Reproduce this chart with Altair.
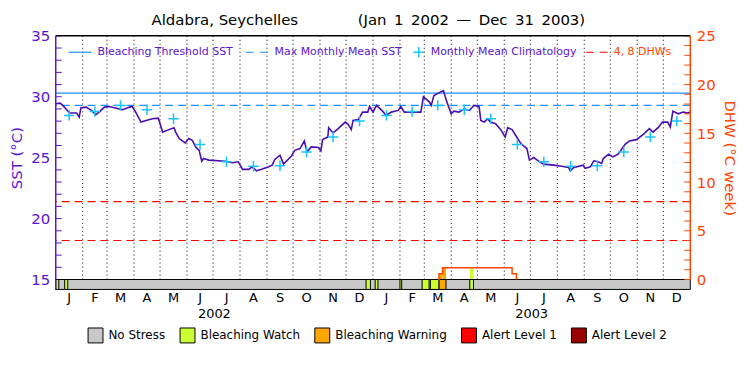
import altair as alt
import pandas as pd

# ---------------- data ----------------
title_left = "Aldabra, Seychelles"
title_right = "(Jan\u20021\u20022002\u2002\u2014\u2002Dec\u200231\u20022003)"

# SST trace: days since 2002-01-01 and SST (deg C)
sst_day = [0, 5, 8, 16, 24, 27, 29, 35, 41, 46, 50, 56, 62, 73, 77, 85, 88, 92, 98, 104,
           111, 118, 123, 128, 136, 138, 142, 149, 153, 157, 161, 165, 168, 170, 176, 195,
           203, 210, 215, 222, 226, 231, 237, 245, 249, 252, 258, 262, 271, 275, 281, 286,
           289, 294, 302, 305, 307, 313, 314, 319, 325, 333, 336, 340, 342, 348, 353, 359,
           361, 365, 369, 376, 380, 386, 394, 397, 401, 420, 423, 430, 432, 435, 443, 446,
           450, 455, 458, 464, 470, 476, 481, 487, 489, 493, 497, 500, 506, 512, 517, 520,
           525, 529, 535, 542, 545, 550, 554, 561, 573, 582, 590, 592, 596, 607, 609, 615,
           619, 624, 628, 630, 636, 641, 647, 655, 660, 668, 676, 683, 687, 693, 698, 704,
           707, 710, 716, 722, 727, 730]
sst_val = [29.42, 29.47, 29.29, 28.66, 28.66, 28.33, 29.10, 29.15, 28.88, 28.53, 28.74, 29.15,
           29.20, 29.00, 28.93, 29.15, 29.20, 28.74, 27.92, 28.06, 28.20, 28.24, 27.10, 27.24,
           27.46, 27.10, 26.57, 26.21, 26.57, 26.43, 25.88, 25.60, 24.71, 24.93, 24.80, 24.71,
           24.58, 24.66, 24.04, 24.04, 24.25, 23.92, 24.04, 24.25, 24.39, 24.85, 25.20, 24.47,
           25.12, 25.60, 25.75, 26.37, 25.48, 25.88, 25.83, 25.56, 26.48, 26.70, 27.46, 27.03,
           27.38, 27.92, 27.78, 27.30, 28.06, 28.12, 28.74, 28.74, 29.20, 28.74, 29.29, 28.82,
           28.47, 28.74, 28.88, 29.20, 28.74, 28.74, 30.00, 29.56, 29.29, 30.10, 30.40, 30.50,
           29.56, 28.60, 28.82, 28.74, 29.00, 28.88, 29.29, 29.20, 28.06, 27.92, 28.20, 27.92,
           27.78, 27.30, 26.70, 27.46, 27.30, 26.84, 26.16, 25.75, 24.80, 25.01, 24.80, 24.47,
           24.39, 24.30, 24.20, 23.92, 24.20, 24.39, 24.12, 24.25, 24.74, 24.66, 24.53, 24.93,
           25.29, 25.07, 25.29, 26.10, 26.37, 26.48, 26.92, 27.38, 27.10, 27.46, 27.92, 27.92,
           27.52, 28.82, 28.60, 28.74, 28.66, 28.74]

# monthly mean climatology (Jan..Dec)
clim_val = [28.47, 28.78, 29.29, 28.93, 28.20, 26.08, 24.66, 24.30, 24.33, 25.47, 26.70, 28.00]
mmm_sst = 29.29
threshold_sst = 30.29
dhw_marks = [4, 8]

# Degree heating weeks (step after)
dhw_day = [440, 441, 445, 525, 530]
dhw_val = [0.0, 0.6, 1.2, 0.6, 0.0]

# stress bar segments
levels = ["No Stress", "Bleaching Watch", "Bleaching Warning", "Alert Level 1", "Alert Level 2"]
level_colors = ["#C8C8C8", "#CCFF33", "#FFA500", "#FF0000", "#990000"]
stress_start = [0, 0, 10.3, 357, 367.5, 396, 421.5, 431, 441, 476.3]
stress_end = [730, 3.5, 13.8, 362, 370.7, 398, 429.5, 441, 449, 480.6]
stress_level = ["No Stress"] + ["Bleaching Watch"] * 7 + ["Bleaching Warning", "Bleaching Watch"]

# coloured fill under the DHW curve
fill_start = [441, 445, 476.3]
fill_end = [445, 449, 480.6]
fill_top = [0.6, 1.2, 1.2]
fill_level = ["Bleaching Warning", "Bleaching Warning", "Bleaching Watch"]

month_letters = list("JFMAMJJASOND")
years = ["2002", "2003"]
sst_ticks = list(range(15, 36))
sst_labels = [15, 20, 25, 30, 35]
dhw_ticks = list(range(0, 26))
dhw_labels = [0, 5, 10, 15, 20, 25]

# ---------------- derived tables ----------------
ms = pd.date_range("2002-01-01", "2004-01-01", freq="MS")
mstart = [(d - ms[0]).days for d in ms]
mmid = [(a + b) / 2 for a, b in zip(mstart[:-1], mstart[1:])]

sst_df = pd.DataFrame({"day": sst_day, "v": sst_val})
clim_df = pd.DataFrame({"day": mmid, "v": clim_val * 2})
grid_df = pd.DataFrame({"day": mstart[1:-1]})
month_df = pd.DataFrame({"day": mmid, "m": month_letters * 2})
year_df = pd.DataFrame({"day": [(mstart[0] + mstart[12]) / 2, (mstart[12] + mstart[24]) / 2],
                        "yr": years})
dhw_df = pd.DataFrame({"day": dhw_day, "v": dhw_val})
stress_df = pd.DataFrame({"s": stress_start, "e": stress_end, "level": stress_level})
fill_df = pd.DataFrame({"s": fill_start, "e": fill_end, "v": fill_top, "level": fill_level,
                        "zero": [0] * len(fill_start)})

# ---------------- styling ----------------
W, H = 638, 245
FONT = "DejaVu Sans"
PURPLE = "#5A14D2"
LINE_PURPLE = "#4A0FB0"
ORANGE = "#FF4500"
BLUE = "#1E90FF"
CYAN = "#19C3FF"
RED = "#FF0000"
CROSS = "M-1,0L1,0M0,-1L0,1"

x_scale = alt.Scale(domain=[0, 730], nice=False, zero=False)
sst_scale = alt.Scale(domain=[15, 35], nice=False, zero=False)
dhw_scale = alt.Scale(domain=[0, 25], nice=False, zero=False)
color_scale = alt.Scale(domain=levels, range=level_colors)

sst_axis = alt.Axis(values=sst_labels, orient="left", ticks=False, tickSize=0, domain=False,
                    grid=False, labelColor=PURPLE, labelFont=FONT, labelFontSize=15,
                    labelPadding=6, title="SST (°C)", titleColor=PURPLE, titleFont=FONT,
                    titleFontSize=15, titleFontWeight="normal", titlePadding=6)
dhw_axis = alt.Axis(values=dhw_labels, orient="right", ticks=False, tickSize=0, domain=False,
                    grid=False, labelColor=ORANGE, labelFont=FONT, labelFontSize=15,
                    labelPadding=6, title="DHW (°C week)", titleColor=ORANGE, titleFont=FONT,
                    titleFontSize=15, titleFontWeight="normal", titlePadding=6)
stress_legend = alt.Legend(title=None, orient="none", legendX=32, legendY=293,
                           direction="horizontal", symbolType="square", symbolSize=225,
                           symbolStrokeColor="black", symbolStrokeWidth=1,
                           symbolOpacity=1, labelFont=FONT, labelFontSize=12,
                           labelColor="black", labelOffset=5, columnPadding=11.5,
                           padding=0)


def X(f):
    return alt.X(f, type="quantitative", scale=x_scale, axis=None)


def YS(f="v"):
    return alt.Y(f, type="quantitative", scale=sst_scale, axis=sst_axis, title="SST (°C)")


def YD(f="v"):
    return alt.Y(f, type="quantitative", scale=dhw_scale, axis=dhw_axis, title="DHW (°C week)")


def COL():
    return alt.Color("level:N", scale=color_scale, legend=stress_legend)


# ---- SST group ----
grid = alt.Chart(grid_df).mark_rule(color="black", strokeDash=[1, 3], strokeWidth=1).encode(
    x=X("day"), y=alt.value(0), y2=alt.value(H))
thr = alt.Chart(pd.DataFrame({"v": [threshold_sst]})).mark_rule(color=BLUE, strokeWidth=1.2).encode(
    y=YS())
mmm = alt.Chart(pd.DataFrame({"v": [mmm_sst]})).mark_rule(color=BLUE, strokeWidth=1.2, strokeDash=[8, 5]).encode(
    y=YS())
line = alt.Chart(sst_df).mark_line(color=LINE_PURPLE, strokeWidth=1.6).encode(
    x=X("day"), y=YS())
crosses = alt.Chart(clim_df).mark_point(shape=CROSS, filled=False, size=110, strokeWidth=1.5,
                                        color=CYAN, opacity=1).encode(
    x=X("day"), y=YS())
left_ticks = alt.Chart(pd.DataFrame({"v": sst_ticks})).mark_rule(color=PURPLE, strokeWidth=1).encode(
    y=YS(), x=alt.value(0), x2=alt.value(6))
sst_layer = alt.layer(grid, thr, mmm, line, crosses, left_ticks)

# ---- DHW group ----
dhw_rules = alt.Chart(pd.DataFrame({"v": dhw_marks})).mark_rule(color=RED, strokeWidth=1.2, strokeDash=[8, 5]).encode(
    y=YD())
fill = alt.Chart(fill_df).mark_rect(opacity=1).encode(
    x=X("s"), x2="e:Q", y=YD(), y2="zero:Q", color=COL())
stress = alt.Chart(stress_df).mark_rect(stroke="black", strokeWidth=1, opacity=1).encode(
    x=X("s"), x2="e:Q", y=alt.value(H), y2=alt.value(H + 10), color=COL())
dhw_line = alt.Chart(dhw_df).mark_line(color=ORANGE, strokeWidth=1.5, interpolate="step-after").encode(
    x=X("day"), y=YD())
right_ticks = alt.Chart(pd.DataFrame({"v": dhw_ticks})).mark_rule(color=ORANGE, strokeWidth=1).encode(
    y=YD(), x=alt.value(W - 6), x2=alt.value(W))
dhw_layer = alt.layer(dhw_rules, fill, stress, dhw_line, right_ticks)

# ---- decorations: frame, labels, title, top legend ----
one = pd.DataFrame({"k": [0]})
top_line = alt.Chart(one).mark_rule(color="black", strokeWidth=1.5).encode(
    x=alt.value(0), x2=alt.value(W), y=alt.value(0))
left_axis = alt.Chart(one).mark_rule(color=PURPLE, strokeWidth=1.5).encode(
    x=alt.value(0), y=alt.value(0), y2=alt.value(H + 10))
right_axis = alt.Chart(one).mark_rule(color=ORANGE, strokeWidth=1.5).encode(
    x=alt.value(W), y=alt.value(0), y2=alt.value(H))
months = alt.Chart(month_df).mark_text(font=FONT, fontSize=13, color="black", baseline="middle").encode(
    x=X("day"), y=alt.value(H + 19), text="m:N")
yrs = alt.Chart(year_df).mark_text(font=FONT, fontSize=13, color="black", baseline="middle").encode(
    x=X("day"), y=alt.value(H + 35), text="yr:N")


def label(txt, x, y, color, size, align="left"):
    return alt.Chart(pd.DataFrame({"t": [txt]})).mark_text(
        font=FONT, fontSize=size, color=color, align=align, baseline="middle").encode(
        x=alt.value(x), y=alt.value(y), text="t:N")


title1 = label(title_left, 170, -16, "black", 15, "center")
title2 = label(title_right, 418, -16, "black", 15, "center")
LY = 16.5
leg1_sym = alt.Chart(one).mark_rule(color=BLUE, strokeWidth=1.2).encode(
    x=alt.value(13), x2=alt.value(36), y=alt.value(LY))
leg1_txt = label("Bleaching Threshold SST", 42, LY, PURPLE, 11)
leg2_sym = alt.Chart(one).mark_rule(color=BLUE, strokeWidth=1.2, strokeDash=[8, 6]).encode(
    x=alt.value(191), x2=alt.value(214), y=alt.value(LY))
leg2_txt = label("Max Monthly Mean SST", 220, LY, PURPLE, 11)
leg3_sym = alt.Chart(one).mark_point(shape=CROSS, filled=False, size=110, strokeWidth=1.5,
                                     color=CYAN, opacity=1).encode(
    x=alt.value(365), y=alt.value(LY))
leg3_txt = label("Monthly Mean Climatology", 377, LY, PURPLE, 11)
leg4_sym = alt.Chart(one).mark_rule(color=RED, strokeWidth=1.2, strokeDash=[8, 6]).encode(
    x=alt.value(533), x2=alt.value(556), y=alt.value(LY))
leg4_txt = label("4, 8 DHWs", 561, LY, ORANGE, 11)

decor = alt.layer(top_line, left_axis, right_axis, months, yrs, title1, title2,
                  leg1_sym, leg1_txt, leg2_sym, leg2_txt, leg3_sym, leg3_txt, leg4_sym, leg4_txt)

chart = alt.layer(sst_layer, dhw_layer, decor).resolve_scale(y="independent").properties(
    width=W, height=H, autosize="none",
    padding={"left": 48, "top": 27, "right": 52, "bottom": 90},
    background="white",
).configure_view(stroke=None)

chart.save("out.html", embed_options={"renderer": "svg", "actions": False})
